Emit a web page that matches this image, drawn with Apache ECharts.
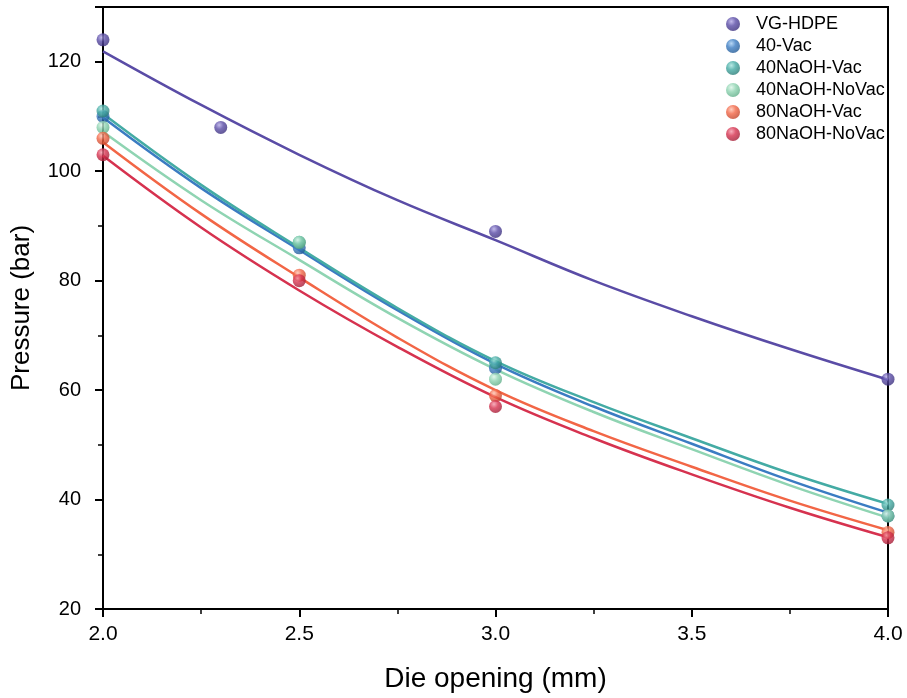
<!DOCTYPE html>
<html>
<head>
<meta charset="utf-8">
<script src="https://cdn.jsdelivr.net/npm/echarts@6/dist/echarts.min.js"></script>
<style>
  html, body { margin: 0; padding: 0; background: #fff; }
  #chart { width: 907px; height: 698px; }
</style>
</head>
<body>
<div id="chart"></div>
<script>
// measured points
const names = ['VG-HDPE', '40-Vac', '40NaOH-Vac', '40NaOH-NoVac', '80NaOH-Vac', '80NaOH-NoVac'];
const xVG = [2.0, 2.3, 3.0, 4.0];
const xOther = [2.0, 2.5, 3.0, 4.0];
const pVG = [124, 108, 89, 62];
const p40Vac = [110, 86, 64, 37];
const p40NaOHVac = [111, 87, 65, 39];
const p40NaOHNoVac = [108, 87, 62, 37];
const p80NaOHVac = [106, 81, 59, 34];
const p80NaOHNoVac = [103, 80, 57, 33];

// fitted curves
const fitX = [2.0, 2.25, 2.5, 2.75, 3.0, 3.25, 3.5, 3.75, 4.0];
const fitVG = [121.9, 112.1, 103.0, 94.7, 87.4, 80.0, 73.5, 67.5, 61.9];
const fit40Vac = [109.8, 96.9, 85.6, 74.6, 64.8, 57.0, 50.2, 43.5, 37.6];
const fit40NaOHVac = [110.5, 97.5, 86.0, 75.0, 65.3, 57.8, 51.2, 44.8, 39.2];
const fit40NaOHNoVac = [107.2, 94.7, 83.8, 73.2, 63.8, 56.0, 49.2, 42.6, 36.7];
const fit80NaOHVac = [105.3, 92.2, 80.6, 69.6, 60.0, 52.5, 46.0, 39.8, 34.4];
const fit80NaOHNoVac = [102.8, 89.7, 78.2, 67.9, 58.7, 51.2, 44.6, 38.5, 33.1];

const xs = [xVG, xOther, xOther, xOther, xOther, xOther];
const pts = [pVG, p40Vac, p40NaOHVac, p40NaOHNoVac, p80NaOHVac, p80NaOHNoVac];
const fits = [fitVG, fit40Vac, fit40NaOHVac, fit40NaOHNoVac, fit80NaOHVac, fit80NaOHNoVac];

const colors = ['#5a4ca6', '#3b7cc2', '#44aba4', '#8fd4b2', '#f26646', '#d6324f'];
const lights = ['#b3a9e6', '#a6cdf2', '#a6e3dd', '#dcf5e8', '#ffc1ae', '#f59aab'];
const darks = ['#3b2f7d', '#235a96', '#2a7d77', '#5fae88', '#c2442a', '#a31d36'];

const zip = (a, b) => a.map((v, i) => [v, b[i]]);

const series = [];
names.forEach((n, i) => {
  series.push({
    name: n + ' fit',
    type: 'line',
    data: zip(fitX, fits[i]),
    smooth: 0.4,
    symbol: 'none',
    lineStyle: { color: colors[i], width: 2.5 },
    z: 2,
    silent: true
  });
});
names.forEach((n, i) => {
  series.push({
    name: n,
    type: 'scatter',
    data: zip(xs[i], pts[i]),
    symbolSize: 13,
    itemStyle: {
      color: new echarts.graphic.RadialGradient(0.38, 0.32, 0.7, [
        { offset: 0, color: lights[i] },
        { offset: 0.45, color: colors[i] },
        { offset: 1, color: darks[i] }
      ])
    },
    z: 3
  });
});

const chart = echarts.init(document.getElementById('chart'));
chart.setOption({
  animation: false,
  textStyle: { fontFamily: 'Liberation Sans, Arial, sans-serif' },
  grid: {
    left: 103, right: 19, top: 7, bottom: 86,
    show: true, borderColor: '#000', borderWidth: 2
  },
  legend: {
    data: names,
    orient: 'vertical',
    left: 721, top: 10,
    icon: 'circle',
    itemWidth: 14, itemHeight: 14,
    itemGap: 4,
    textStyle: { fontSize: 18, lineHeight: 18, color: '#000', padding: [0, 0, 0, 11] }
  },
  xAxis: {
    type: 'value',
    min: 2, max: 4, interval: 0.5,
    name: 'Die opening (mm)',
    nameLocation: 'middle',
    nameGap: 56,
    nameTextStyle: { fontSize: 28, color: '#000' },
    axisLine: { show: true, onZero: false, lineStyle: { color: '#000', width: 2 } },
    axisTick: { show: true, inside: false, length: 8, lineStyle: { color: '#000', width: 2 } },
    minorTick: { show: true, splitNumber: 2, length: 5, lineStyle: { color: '#000', width: 1.5 } },
    axisLabel: { fontSize: 21, color: '#000', margin: 15, formatter: v => v.toFixed(1) },
    splitLine: { show: false }
  },
  yAxis: {
    type: 'value',
    min: 20, max: 130, interval: 20,
    name: 'Pressure (bar)',
    nameLocation: 'middle',
    nameGap: 68,
    nameTextStyle: { fontSize: 26, color: '#000' },
    axisLine: { show: true, onZero: false, lineStyle: { color: '#000', width: 2 } },
    axisTick: { show: true, inside: false, length: 8, lineStyle: { color: '#000', width: 2 } },
    minorTick: { show: true, splitNumber: 2, length: 5, lineStyle: { color: '#000', width: 1.5 } },
    axisLabel: { fontSize: 20, color: '#000', margin: 22, showMaxLabel: false },
    splitLine: { show: false }
  },
  series: series
});
</script>
</body>
</html>
